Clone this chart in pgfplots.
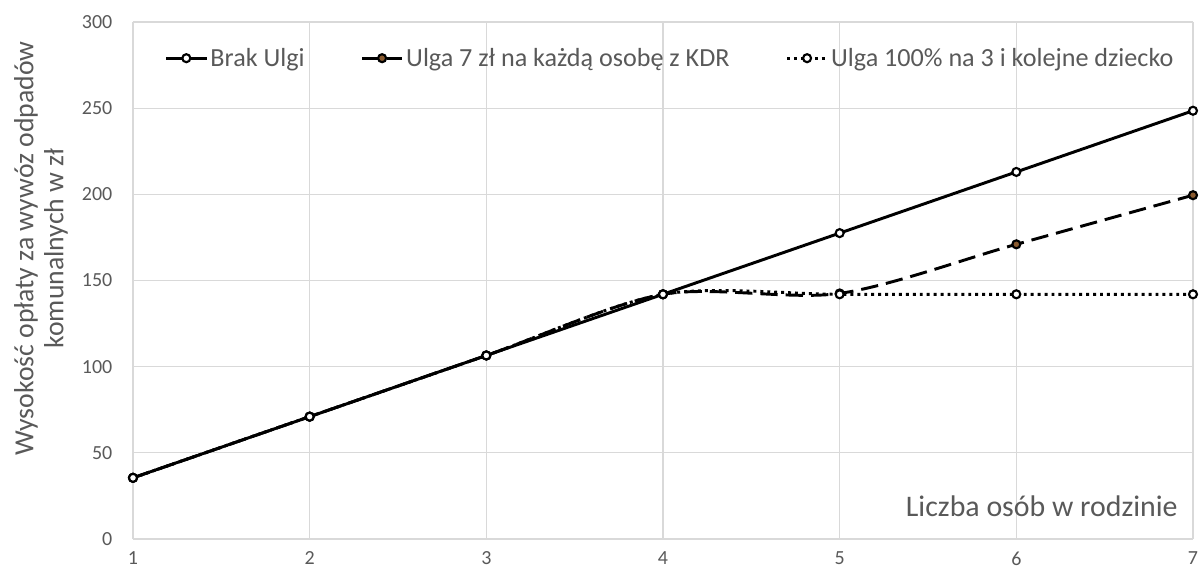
\documentclass[border=0pt]{standalone}
\usepackage{pgfplots}
\pgfplotsset{compat=1.18}
\usepackage{fontspec}
\setmainfont{Carlito}
\definecolor{txt}{HTML}{595959}
\definecolor{grd}{HTML}{D9D9D9}
\definecolor{mk2}{HTML}{8A5A2E}
\begin{document}
\begin{tikzpicture}
\path[use as bounding box] (-99.75pt,-28pt) rectangle (803.25pt,404.25pt);
\begin{axis}[
  scale only axis,
  width=795pt, height=387.75pt,
  xmin=1, xmax=7, ymin=0, ymax=300,
  xtick={1,2,3,4,5,6,7},
  ytick={0,50,100,150,200,250,300},
  grid=major,
  major grid style={color=grd, line width=0.8pt},
  axis line style={draw=none},
  major tick style={draw=none},
  /pgf/number format/assume math mode=true,
  ticklabel style={font=\fontsize{15}{17}\selectfont, text=txt},
  yticklabel shift=12pt,
  xticklabel shift=8.5pt,
  xticklabel style={inner sep=1pt},
  ylabel={Wysokość opłaty za wywóz odpadów\\komunalnych w zł},
  ylabel style={at={(axis description cs:-0.0868,0.562)}, anchor=center, align=center, font=\fontsize{20.8}{22.5}\selectfont, text=txt},
  xlabel={Liczba osób w rodzinie},
  xlabel style={at={(axis description cs:0.99,0.064)}, anchor=east, font=\fontsize{22.4}{26}\selectfont, text=txt},
  legend style={at={(axis description cs:0.507,0.930)}, anchor=center, draw=none, fill=none, legend columns=-1, font=\fontsize{19.6}{22}\selectfont, text=txt, /tikz/every even column/.append style={column sep=40pt}},
  legend image code/.code={\draw[#1,mark repeat=2,mark phase=2] plot coordinates {(0pt,0pt)(15pt,0pt)(30pt,0pt)};},
  clip=false,
]
\addplot[black, line width=2.2pt, smooth, mark=*, mark size=3pt, mark options={solid, fill=white, line width=1.6pt}]
  coordinates {(1,35.5)(2,71)(3,106.5)(4,142)(5,177.5)(6,213)(7,248.5)};
\addlegendentry{Brak Ulgi}
\addplot[black, line width=2.2pt, smooth, dash pattern=on 13pt off 6pt, mark=*, mark size=3pt, mark options={solid, fill=mk2, line width=1.6pt}]
  coordinates {(1,35.5)(2,71)(3,106.5)(4,142)(5,142.5)(6,171)(7,199.5)};
\addlegendentry{Ulga 7 zł na każdą osobę z KDR}
\addplot[black, line width=2.2pt, smooth, dash pattern=on 2.2pt off 3pt, mark=*, mark size=3pt, mark options={solid, fill=white, line width=1.6pt}]
  coordinates {(1,35.5)(2,71)(3,106.5)(4,142)(5,142)(6,142)(7,142)};
\addlegendentry{Ulga 100\% na 3 i kolejne dziecko}
\end{axis}
\end{tikzpicture}
\end{document}
